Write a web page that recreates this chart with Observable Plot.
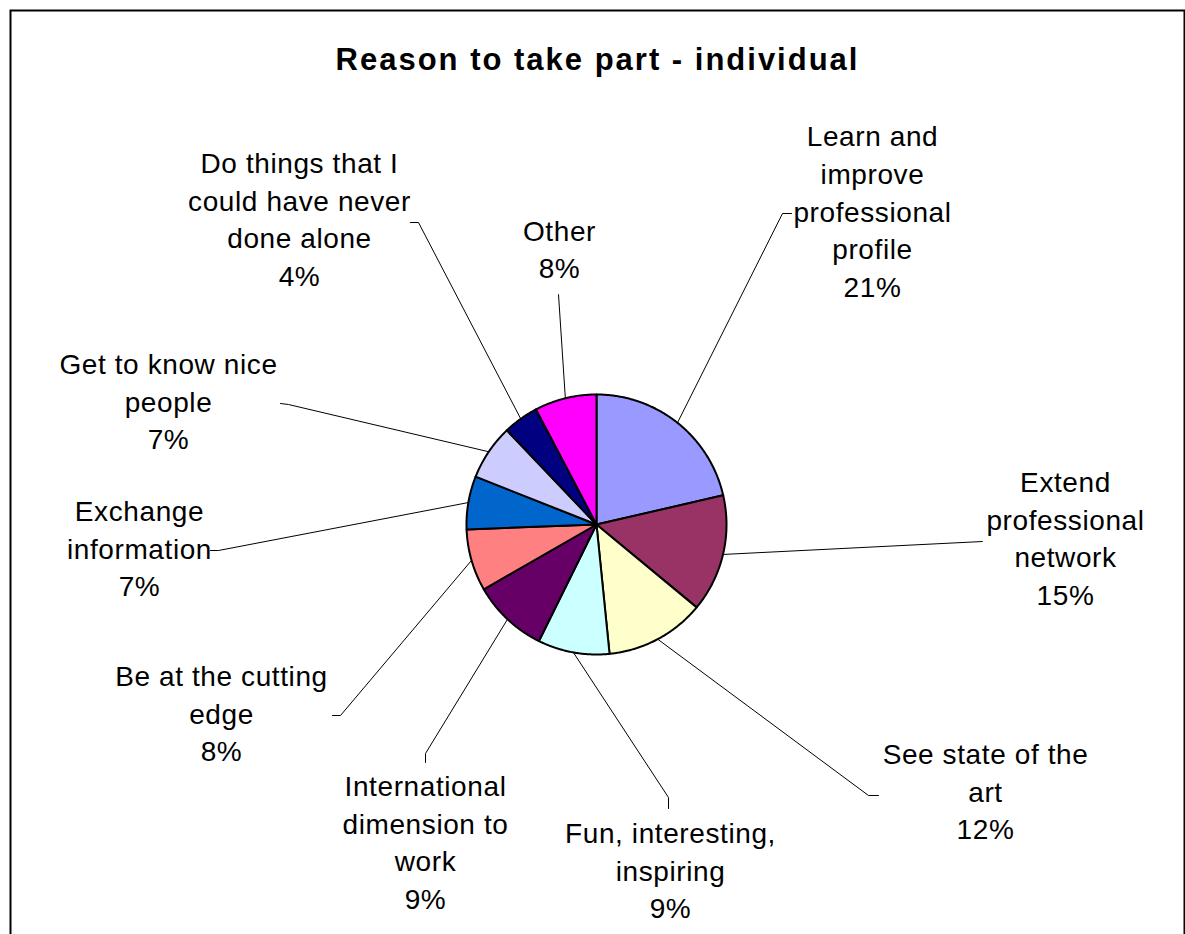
<!DOCTYPE html>
<html>
<head>
<meta charset="utf-8">
<script src="https://cdn.jsdelivr.net/npm/d3@7"></script>
<script src="https://cdn.jsdelivr.net/npm/@observablehq/plot@0.6"></script>
<style>
  html, body { margin: 0; padding: 0; background: #fff; }
  #chart svg { display: block; }
</style>
</head>
<body>
<div id="chart"></div>
<script>
// ---------- data ----------
const title = "Reason to take part - individual";
const categories = [
  "Learn and improve professional profile",
  "Extend professional network",
  "See state of the art",
  "Fun, interesting, inspiring",
  "International dimension to work",
  "Be at the cutting edge",
  "Exchange information",
  "Get to know nice people",
  "Do things that I could have never done alone",
  "Other"
];
const shares = [21.4, 14.6, 12.4, 8.9, 9.4, 7.7, 6.6, 6.9, 4.4, 7.7];
const colors = ["#9999FF", "#993366", "#FFFFCC", "#CCFFFF", "#660066",
                "#FF8080", "#0066CC", "#CCCCFF", "#000080", "#FF00FF"];
const labelLines = [
  ["Learn and", "improve", "professional", "profile"],
  ["Extend", "professional", "network"],
  ["See state of the", "art"],
  ["Fun, interesting,", "inspiring"],
  ["International", "dimension to", "work"],
  ["Be at the cutting", "edge"],
  ["Exchange", "information"],
  ["Get to know nice", "people"],
  ["Do things that I", "could have never", "done alone"],
  ["Other"]
];

// ---------- layout (pixel offsets from the pie centre) ----------
const W = 1185, H = 934;
const CX = 596, CY = 524, R = 130;
const labelCentre = [[276,-315],[469,12],[389,265],[74,344],[-171,316],[-375,187],[-457,22],[-428,-125],[-297,-307],[-37,-277]];
const leaderElbow = [[186,-311],[386,17],[272,271],[72,273],[-171,229],[-256,191],[-378,26],[-308,-120],[-178,-302],[-38,-230]];
const leaderEnd   = [[195,-311],[386,17],[282,271],[72,284],[-171,238],[-264,191],[-386,26],[-316,-121],[-186,-302],[-38,-230]];

// ---------- derived geometry (unit-radius data space, y downward) ----------
const total = d3.sum(shares);
let acc = 0;
const arcs = shares.map((v, i) => {
  const a0 = acc / total * 2 * Math.PI; acc += v;
  const a1 = acc / total * 2 * Math.PI;
  return {i, a0, a1, mid: (a0 + a1) / 2};
});
const sliceRows = arcs.flatMap(({i, a0, a1}) => {
  const n = Math.max(2, Math.ceil((a1 - a0) / (Math.PI / 360)));
  const pts = [{cat: categories[i], x: 0, y: 0}];
  for (let k = 0; k <= n; k++) {
    const a = a0 + (a1 - a0) * k / n;
    pts.push({cat: categories[i], x: Math.sin(a), y: -Math.cos(a)});
  }
  return pts;
});
const leaderRows = arcs.flatMap(({i, mid}) => [
  {cat: categories[i], x: Math.sin(mid), y: -Math.cos(mid)},
  {cat: categories[i], x: leaderElbow[i][0] / R, y: leaderElbow[i][1] / R},
  {cat: categories[i], x: leaderEnd[i][0] / R, y: leaderEnd[i][1] / R}
]);
const labelRows = categories.map((c, i) => ({
  cat: c,
  x: labelCentre[i][0] / R,
  y: labelCentre[i][1] / R,
  text: labelLines[i].join("\n") + "\n" + Math.round(shares[i] / total * 100) + "%"
}));

const font = "Arial, 'Liberation Sans', sans-serif";

const chart = Plot.plot({
  width: W,
  height: H,
  marginLeft: 10, marginTop: 10, marginRight: 1, marginBottom: 0,
  style: {background: "#fff", fontFamily: font},
  x: {domain: [-CX / R, (W - CX) / R], range: [0, W], axis: null},
  y: {domain: [-CY / R, (H - CY) / R], range: [0, H], axis: null},
  color: {domain: categories, range: colors},
  marks: [
    Plot.frame({stroke: "black", strokeWidth: 2, insetBottom: -6}),
    Plot.text([title], {
      frameAnchor: "top", dy: 50, lineAnchor: "middle",
      fontSize: 31, fontWeight: "bold", fontFamily: font, fill: "black"
    }),
    Plot.line(leaderRows, {x: "x", y: "y", z: "cat", stroke: "black", strokeWidth: 1, curve: "linear"}),
    Plot.line(sliceRows, {x: "x", y: "y", z: "cat", fill: "cat", stroke: "black", strokeWidth: 2, curve: "linear-closed", strokeLinejoin: "round"}),
    Plot.text(labelRows, {
      x: "x", y: "y", text: "text",
      textAnchor: "middle", lineAnchor: "middle", lineHeight: 1.35,
      fontSize: 28, fontFamily: font, fill: "black"
    })
  ]
});
// letter spacing to match the original rendering
d3.select(chart).selectAll("text").each(function () {
  const t = this.textContent;
  if (t === title) this.setAttribute("letter-spacing", "2");
  else this.setAttribute("letter-spacing", "0.6");
});
document.getElementById("chart").appendChild(chart);
</script>
</body>
</html>
